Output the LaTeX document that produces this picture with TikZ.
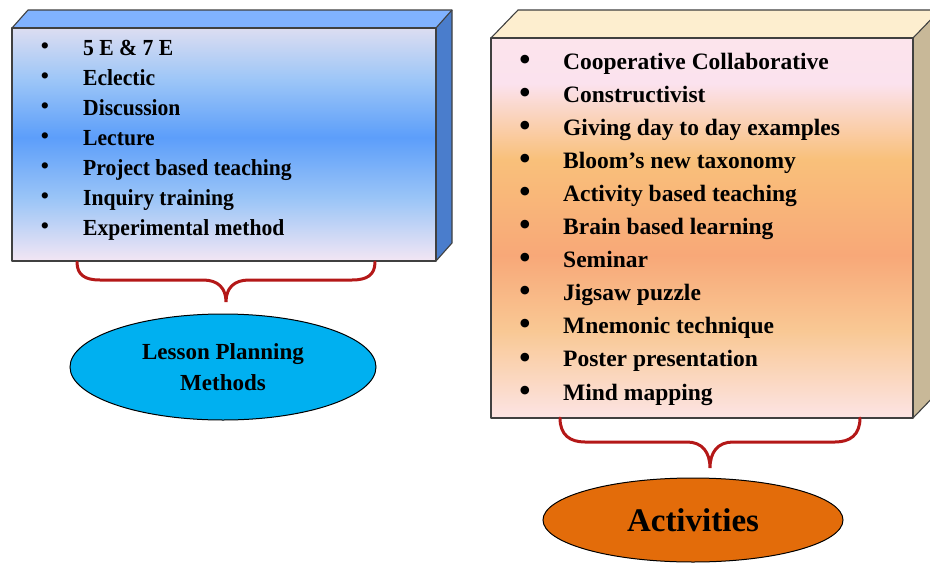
\documentclass[tikz,border=0pt]{standalone}
\usepackage{fontspec}
\setmainfont{Liberation Serif}
\newfontfamily\lfont[FakeStretch=0.94]{Liberation Serif}
\usetikzlibrary{shapes.geometric}
\definecolor{lblueA}{HTML}{DCDDF1}
\definecolor{lblueB}{HTML}{5C9EFA}
\definecolor{lblueC}{HTML}{F3E6F4}
\definecolor{lblueM}{HTML}{9DC6F7}
\definecolor{ltop}{HTML}{80B2FF}
\definecolor{lside}{HTML}{4A7DCC}
\definecolor{rtop}{HTML}{FDEECF}
\definecolor{rside}{HTML}{C8B898}
\definecolor{rA}{HTML}{FCE4EC}
\definecolor{rB}{HTML}{FBE2EE}
\definecolor{rC}{HTML}{F9C07A}
\definecolor{rD}{HTML}{F8A878}
\definecolor{rE}{HTML}{F9C894}
\definecolor{rF}{HTML}{FCE4E4}
\definecolor{bracered}{HTML}{B41818}
\definecolor{ellblue}{HTML}{00B0F0}
\definecolor{ellorange}{HTML}{E36C0A}
\definecolor{edge}{HTML}{404040}
\pgfdeclareverticalshading{blueface}{100bp}{color(0bp)=(lblueC); color(25bp)=(lblueC); color(38bp)=(lblueM); color(51.5bp)=(lblueB); color(64bp)=(lblueM); color(75bp)=(lblueA); color(100bp)=(lblueA)}
\pgfdeclareverticalshading{orangeface}{100bp}{color(0bp)=(rF); color(25bp)=(rF); color(36.5bp)=(rE); color(46.4bp)=(rD); color(59bp)=(rC); color(69bp)=(rB); color(75bp)=(rA); color(100bp)=(rA)}
\tikzset{
  faceedge/.style={draw=edge, line width=1.1pt, line join=round},
  brace/.style={draw=bracered, line width=3pt, line cap=round},
  litem/.style={anchor=base west, inner sep=0pt, font=\lfont\bfseries\fontsize{23}{23}\selectfont},
  ritem/.style={anchor=base west, inner sep=0pt, font=\bfseries\fontsize{23.5}{23.5}\selectfont},
  lbul/.style={inner sep=0pt, font=\fontsize{26}{26}\selectfont},
  rbul/.style={inner sep=0pt, font=\fontsize{36}{36}\selectfont},
  ellnode/.style={ellipse, draw=black, line width=1pt, inner sep=0pt, align=center}
}
\begin{document}
\begin{tikzpicture}[x=1pt,y=-1pt]
\useasboundingbox (0,0) rectangle (930,565);
% ---------- left box ----------
\fill[ltop] (12,28) -- (28,10) -- (452,10) -- (436,28) -- cycle;
\fill[lside] (436,28) -- (452,10) -- (452,243) -- (436,261) -- cycle;
\draw[faceedge] (12,28) -- (28,10) -- (452,10) -- (452,243) -- (436,261);
\draw[faceedge] (436,28) -- (452,10);
\shade[shading=blueface] (12,28) rectangle (436,261);
\draw[faceedge] (12,28) rectangle (436,261);
% ---------- right box ----------
\begin{scope}
\clip (0,0) rectangle (930,565);
\fill[rtop] (491,38) -- (518,10) -- (940,10) -- (913,38) -- cycle;
\fill[rside] (913,38) -- (940,10) -- (940,390) -- (913,418) -- cycle;
\draw[faceedge] (491,38) -- (518,10) -- (940,10);
\draw[faceedge] (913,38) -- (940,10);
\draw[faceedge] (913,418) -- (940,390);
\end{scope}
\shade[shading=orangeface] (491,38) rectangle (913,418);
\draw[faceedge] (491,38) rectangle (913,418);
% ---------- left items ----------
\foreach \t [count=\i from 0] in {5 E \& 7 E, Eclectic, Discussion, Lecture, Project based teaching, Inquiry training, Experimental method}{
  \node[litem] (l\i) at (83,{55+30*\i}) {\t};
  \node[lbul] (lb\i) at (45,{49+30*\i}) {•};
}
% ---------- right items ----------
\foreach \t [count=\i from 0] in {Cooperative Collaborative, Constructivist, Giving day to day examples, Bloom’s new taxonomy, Activity based teaching, Brain based learning, Seminar, Jigsaw puzzle, Mnemonic technique, Poster presentation, Mind mapping}{
  \node[ritem] (r\i) at (563,{69+33.1*\i}) {\t};
  \node[rbul] (rb\i) at (525,{63+33.1*\i}) {•};
}
% ---------- braces ----------
\coordinate (lbtip) at (226,302);
\coordinate (rbtip) at (710,468);
\draw[brace] (77,262) .. controls (77,275) and (85,280) .. (100,280) -- (203,280)
  .. controls (218,280) and (226,288) .. (lbtip)
  .. controls (226,288) and (234,280) .. (249,280) -- (352,280)
  .. controls (367,280) and (375,275) .. (375,262);
\draw[brace] (560,418) .. controls (560,435) and (570,442) .. (585,442) -- (687,442)
  .. controls (702,442) and (710,452) .. (rbtip)
  .. controls (710,452) and (718,442) .. (733,442) -- (835,442)
  .. controls (850,442) and (860,435) .. (860,418);
% ---------- ellipses ----------
\node[ellnode, fill=ellblue, minimum width=306pt, minimum height=106pt,
      font=\bfseries\fontsize{23}{31}\selectfont] (lpm) at (223,367) {Lesson Planning\\Methods};
\node[ellnode, fill=ellorange, minimum width=300pt, minimum height=84pt,
      font=\bfseries\fontsize{33}{33}\selectfont] (act) at (693,520) {Activities};
\end{tikzpicture}
\end{document}
